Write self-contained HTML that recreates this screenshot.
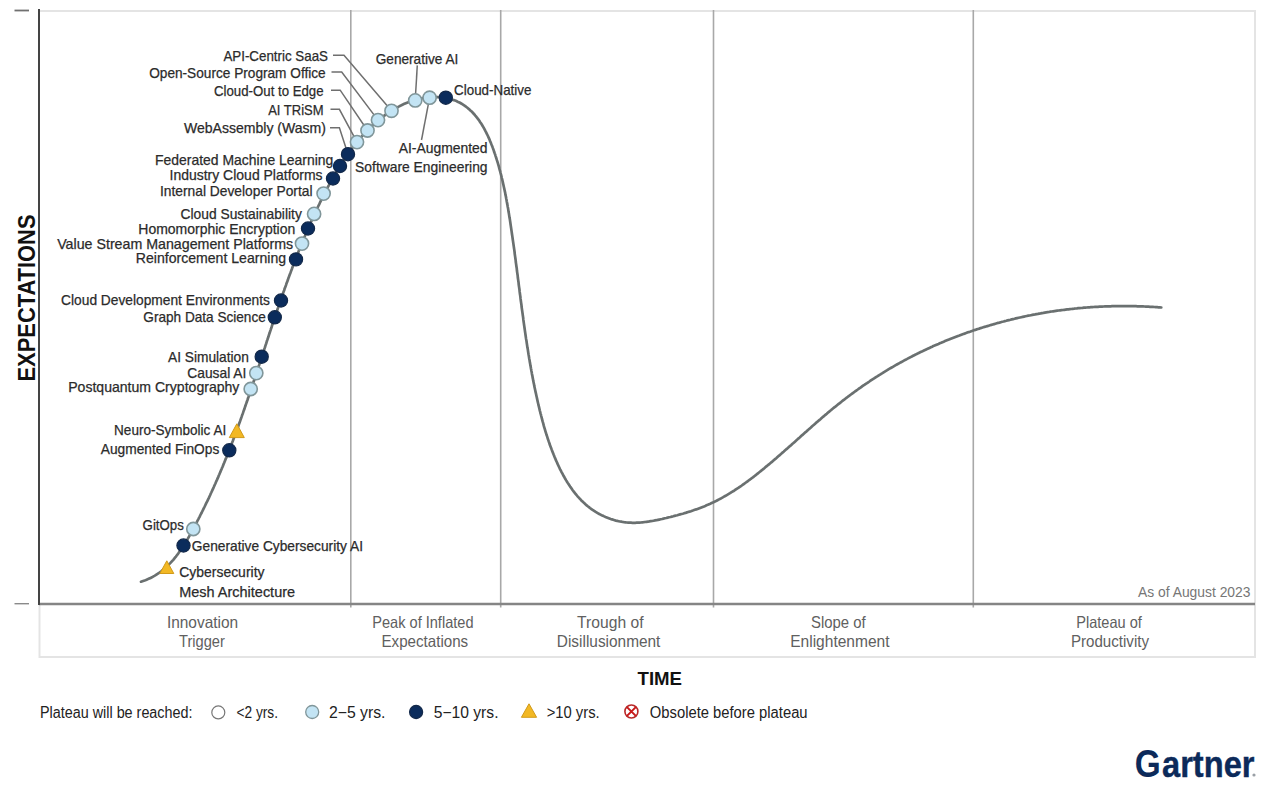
<!DOCTYPE html><html><head><meta charset="utf-8"><style>html,body{margin:0;padding:0;background:#fff;width:1280px;height:790px;overflow:hidden}svg{display:block}</style></head><body><svg width="1280" height="790" viewBox="0 0 1280 790">
<rect width="1280" height="790" fill="#fff"/>
<line x1="39" y1="11" x2="1256" y2="11" stroke="#e4e4e4" stroke-width="2"/>
<line x1="1255" y1="10" x2="1255" y2="658" stroke="#e4e4e4" stroke-width="2"/>
<line x1="39.5" y1="604" x2="39.5" y2="658" stroke="#e4e4e4" stroke-width="2"/>
<line x1="39" y1="657" x2="1256" y2="657" stroke="#e4e4e4" stroke-width="2"/>
<line x1="350.8" y1="10" x2="350.8" y2="607.5" stroke="#a8a8a8" stroke-width="1.6"/>
<line x1="500.7" y1="10" x2="500.7" y2="607.5" stroke="#a8a8a8" stroke-width="1.6"/>
<line x1="713.5" y1="10" x2="713.5" y2="607.5" stroke="#a8a8a8" stroke-width="1.6"/>
<line x1="973.3" y1="10" x2="973.3" y2="607.5" stroke="#a8a8a8" stroke-width="1.6"/>
<line x1="39" y1="604" x2="1255" y2="604" stroke="#858585" stroke-width="2.4"/>
<line x1="39" y1="9" x2="39" y2="605" stroke="#444" stroke-width="2"/>
<line x1="14.5" y1="10.5" x2="29" y2="10.5" stroke="#707070" stroke-width="1.8"/>
<line x1="14.5" y1="603.7" x2="29" y2="603.7" stroke="#8a8a8a" stroke-width="1.4"/>
<path d="M141.0,581.7 L142.4,581.2 L143.9,580.7 L145.3,580.2 L146.6,579.7 L148.0,579.1 L149.3,578.5 L150.6,577.9 L151.9,577.3 L153.1,576.6 L154.4,575.9 L155.6,575.2 L156.8,574.4 L157.9,573.7 L159.1,572.9 L160.2,572.1 L161.3,571.3 L162.4,570.4 L163.5,569.5 L164.5,568.6 L165.6,567.7 L166.6,566.8 L167.6,565.9 L168.6,564.9 L169.5,563.9 L170.5,562.9 L171.4,561.9 L172.3,560.9 L173.3,559.8 L174.1,558.8 L175.0,557.7 L175.9,556.6 L176.7,555.5 L177.6,554.4 L178.4,553.3 L179.2,552.1 L180.0,551.0 L180.8,549.8 L181.6,548.7 L182.4,547.5 L183.2,546.3 L183.9,545.1 L184.7,543.9 L185.4,542.7 L186.1,541.5 L186.9,540.3 L187.6,539.1 L188.3,537.8 L189.0,536.6 L189.7,535.4 L190.4,534.1 L191.1,532.9 L191.7,531.6 L192.4,530.4 L193.1,529.1 L193.8,527.9 L194.4,526.6 L195.1,525.4 L195.8,524.1 L196.4,522.9 L197.1,521.6 L197.7,520.3 L198.4,519.1 L199.0,517.8 L199.7,516.6 L200.3,515.3 L200.9,514.0 L201.6,512.8 L202.2,511.5 L202.8,510.3 L203.5,509.0 L204.1,507.7 L204.7,506.5 L205.3,505.2 L205.9,503.9 L206.5,502.6 L207.2,501.4 L207.8,500.1 L208.4,498.8 L209.0,497.6 L209.6,496.3 L210.2,495.0 L210.7,493.7 L211.3,492.5 L211.9,491.2 L212.5,489.9 L213.1,488.6 L213.7,487.3 L214.2,486.1 L214.8,484.8 L215.4,483.5 L215.9,482.2 L216.5,480.9 L217.1,479.6 L217.6,478.4 L218.2,477.1 L218.7,475.8 L219.3,474.5 L219.8,473.2 L220.4,471.9 L220.9,470.6 L221.5,469.3 L222.0,468.0 L222.6,466.7 L223.1,465.4 L223.6,464.1 L224.2,462.8 L224.7,461.5 L225.2,460.2 L225.7,458.9 L226.3,457.6 L226.8,456.3 L227.3,455.0 L227.8,453.7 L228.3,452.4 L228.9,451.1 L229.4,449.8 L229.9,448.5 L230.4,447.2 L230.9,445.9 L231.4,444.6 L231.9,443.3 L232.4,442.0 L232.9,440.7 L233.4,439.3 L233.9,438.0 L234.4,436.7 L234.9,435.4 L235.4,434.1 L235.8,432.8 L236.3,431.4 L236.8,430.1 L237.3,428.8 L237.8,427.5 L238.3,426.2 L238.7,424.9 L239.2,423.5 L239.7,422.2 L240.2,420.9 L240.6,419.6 L241.1,418.2 L241.6,416.9 L242.0,415.6 L242.5,414.3 L243.0,412.9 L243.4,411.6 L243.9,410.3 L244.4,409.0 L244.8,407.6 L245.3,406.3 L245.7,405.0 L246.2,403.6 L246.7,402.3 L247.1,401.0 L247.6,399.7 L248.0,398.3 L248.5,397.0 L248.9,395.7 L249.4,394.3 L249.8,393.0 L250.3,391.7 L250.7,390.3 L251.2,389.0 L251.6,387.7 L252.1,386.3 L252.5,385.0 L253.0,383.7 L253.4,382.3 L253.9,381.0 L254.3,379.6 L254.7,378.3 L255.2,377.0 L255.6,375.6 L256.1,374.3 L256.5,373.0 L257.0,371.6 L257.4,370.3 L257.8,369.0 L258.3,367.6 L258.7,366.3 L259.2,364.9 L259.6,363.6 L260.0,362.3 L260.5,360.9 L260.9,359.6 L261.3,358.2 L261.8,356.9 L262.2,355.6 L262.7,354.2 L263.1,352.9 L263.5,351.6 L264.0,350.2 L264.4,348.9 L264.9,347.5 L265.3,346.2 L265.7,344.9 L266.2,343.5 L266.6,342.2 L267.0,340.8 L267.5,339.5 L267.9,338.2 L268.4,336.8 L268.8,335.5 L269.2,334.2 L269.7,332.8 L270.1,331.5 L270.6,330.1 L271.0,328.8 L271.5,327.5 L271.9,326.1 L272.3,324.8 L272.8,323.5 L273.2,322.1 L273.7,320.8 L274.1,319.5 L274.6,318.1 L275.0,316.8 L275.5,315.4 L275.9,314.1 L276.4,312.8 L276.8,311.4 L277.3,310.1 L277.7,308.8 L278.2,307.4 L278.6,306.1 L279.1,304.8 L279.5,303.4 L280.0,302.1 L280.5,300.8 L280.9,299.5 L281.4,298.1 L281.8,296.8 L282.3,295.5 L282.8,294.1 L283.2,292.8 L283.7,291.5 L284.2,290.2 L284.6,288.8 L285.1,287.5 L285.6,286.2 L286.1,284.9 L286.5,283.5 L287.0,282.2 L287.5,280.9 L288.0,279.6 L288.4,278.2 L288.9,276.9 L289.4,275.6 L289.9,274.3 L290.4,273.0 L290.9,271.6 L291.4,270.3 L291.9,269.0 L292.3,267.7 L292.8,266.4 L293.3,265.1 L293.8,263.7 L294.3,262.4 L294.8,261.1 L295.3,259.8 L295.9,258.5 L296.4,257.2 L296.9,255.9 L297.4,254.6 L297.9,253.2 L298.4,251.9 L298.9,250.6 L299.5,249.3 L300.0,248.0 L300.5,246.7 L301.0,245.4 L301.6,244.1 L302.1,242.8 L302.6,241.5 L303.2,240.2 L303.7,238.9 L304.2,237.6 L304.8,236.3 L305.3,235.0 L305.9,233.7 L306.4,232.4 L307.0,231.1 L307.5,229.9 L308.1,228.6 L308.7,227.3 L309.2,226.0 L309.8,224.7 L310.3,223.4 L310.9,222.1 L311.5,220.8 L312.1,219.6 L312.6,218.3 L313.2,217.0 L313.8,215.7 L314.4,214.4 L315.0,213.2 L315.6,211.9 L316.2,210.6 L316.8,209.3 L317.4,208.1 L318.0,206.8 L318.6,205.5 L319.2,204.3 L319.8,203.0 L320.4,201.7 L321.1,200.5 L321.7,199.2 L322.3,197.9 L322.9,196.7 L323.6,195.4 L324.2,194.2 L324.8,192.9 L325.5,191.7 L326.1,190.4 L326.8,189.2 L327.4,187.9 L328.1,186.7 L328.8,185.4 L329.4,184.2 L330.1,182.9 L330.8,181.7 L331.5,180.5 L332.1,179.2 L332.8,178.0 L333.5,176.8 L334.2,175.5 L334.9,174.3 L335.6,173.1 L336.3,171.9 L337.1,170.7 L337.8,169.5 L338.5,168.3 L339.2,167.1 L340.0,165.9 L340.7,164.7 L341.5,163.5 L342.2,162.3 L343.0,161.1 L343.8,160.0 L344.5,158.8 L345.3,157.6 L346.1,156.5 L346.9,155.3 L347.7,154.2 L348.5,153.0 L349.3,151.9 L350.2,150.8 L351.0,149.6 L351.8,148.5 L352.7,147.4 L353.5,146.3 L354.4,145.2 L355.3,144.1 L356.1,143.0 L357.0,141.9 L357.9,140.8 L358.8,139.8 L359.7,138.7 L360.6,137.7 L361.6,136.6 L362.5,135.6 L363.4,134.5 L364.4,133.5 L365.4,132.5 L366.3,131.5 L367.3,130.5 L368.3,129.5 L369.3,128.5 L370.3,127.5 L371.3,126.6 L372.3,125.6 L373.4,124.7 L374.4,123.7 L375.5,122.8 L376.6,121.9 L377.6,121.0 L378.7,120.0 L379.8,119.1 L380.9,118.3 L382.0,117.4 L383.2,116.5 L384.3,115.7 L385.5,114.8 L386.6,114.0 L387.8,113.2 L389.0,112.4 L390.2,111.6 L391.4,110.8 L392.6,110.1 L393.8,109.3 L395.0,108.6 L396.2,107.9 L397.5,107.2 L398.7,106.6 L400.0,105.9 L401.3,105.3 L402.5,104.7 L403.8,104.1 L405.1,103.5 L406.4,102.9 L407.7,102.4 L409.1,101.9 L410.4,101.4 L411.7,100.9 L413.1,100.5 L414.4,100.1 L415.8,99.7 L417.2,99.3 L418.5,99.0 L419.9,98.7 L421.3,98.4 L422.7,98.1 L424.1,97.9 L425.5,97.7 L427.0,97.5 L428.4,97.4 L429.8,97.2 L431.3,97.2 L432.7,97.1 L434.2,97.1 L435.6,97.1 L437.1,97.1 L438.5,97.2 L440.0,97.3 L441.4,97.4 L442.8,97.6 L444.3,97.8 L445.7,98.0 L447.1,98.3 L448.4,98.6 L449.8,98.9 L451.2,99.3 L452.5,99.7 L453.8,100.1 L455.1,100.6 L456.4,101.1 L457.6,101.7 L458.8,102.2 L460.0,102.8 L461.2,103.5 L462.3,104.2 L463.4,104.9 L464.5,105.6 L465.6,106.4 L466.7,107.2 L467.7,108.0 L468.7,108.9 L469.7,109.7 L470.7,110.7 L471.7,111.6 L472.6,112.5 L473.5,113.5 L474.4,114.5 L475.3,115.6 L476.2,116.6 L477.0,117.7 L477.9,118.8 L478.7,119.9 L479.5,121.0 L480.2,122.2 L481.0,123.3 L481.8,124.5 L482.5,125.7 L483.2,126.9 L483.9,128.1 L484.6,129.4 L485.2,130.6 L485.9,131.9 L486.5,133.2 L487.2,134.5 L487.8,135.8 L488.4,137.1 L489.0,138.4 L489.6,139.8 L490.1,141.1 L490.7,142.4 L491.2,143.8 L491.7,145.1 L492.3,146.5 L492.8,147.9 L493.3,149.2 L493.8,150.6 L494.2,152.0 L494.7,153.4 L495.2,154.7 L495.6,156.1 L496.1,157.5 L496.5,158.8 L496.9,160.2 L497.4,161.6 L497.8,163.0 L498.2,164.3 L498.6,165.7 L499.0,167.1 L499.3,168.4 L499.7,169.8 L500.1,171.2 L500.4,172.5 L500.8,173.9 L501.2,175.3 L501.5,176.6 L501.8,178.0 L502.2,179.4 L502.5,180.7 L502.8,182.1 L503.1,183.5 L503.4,184.8 L503.7,186.2 L504.0,187.5 L504.3,188.9 L504.6,190.3 L504.9,191.6 L505.2,193.0 L505.4,194.4 L505.7,195.7 L506.0,197.1 L506.2,198.5 L506.5,199.8 L506.7,201.2 L507.0,202.6 L507.2,203.9 L507.5,205.3 L507.7,206.7 L508.0,208.0 L508.2,209.4 L508.4,210.8 L508.6,212.1 L508.9,213.5 L509.1,214.9 L509.3,216.2 L509.5,217.6 L509.8,219.0 L510.0,220.4 L510.2,221.7 L510.4,223.1 L510.6,224.5 L510.8,225.9 L511.0,227.2 L511.2,228.6 L511.4,230.0 L511.6,231.4 L511.8,232.8 L512.0,234.2 L512.2,235.5 L512.4,236.9 L512.6,238.3 L512.8,239.7 L513.0,241.1 L513.2,242.5 L513.4,243.9 L513.6,245.2 L513.8,246.6 L514.0,248.0 L514.2,249.4 L514.4,250.8 L514.6,252.2 L514.7,253.6 L514.9,255.0 L515.1,256.4 L515.3,257.8 L515.5,259.2 L515.7,260.6 L515.8,262.0 L516.0,263.4 L516.2,264.8 L516.4,266.2 L516.6,267.5 L516.8,268.9 L516.9,270.3 L517.1,271.7 L517.3,273.1 L517.5,274.5 L517.7,275.9 L517.8,277.3 L518.0,278.7 L518.2,280.1 L518.4,281.5 L518.6,282.9 L518.7,284.3 L518.9,285.7 L519.1,287.1 L519.3,288.5 L519.5,289.9 L519.6,291.4 L519.8,292.8 L520.0,294.2 L520.2,295.6 L520.4,297.0 L520.5,298.4 L520.7,299.8 L520.9,301.2 L521.1,302.6 L521.3,304.0 L521.5,305.4 L521.6,306.8 L521.8,308.2 L522.0,309.6 L522.2,311.0 L522.4,312.4 L522.6,313.8 L522.8,315.2 L523.0,316.6 L523.2,318.0 L523.3,319.4 L523.5,320.8 L523.7,322.2 L523.9,323.6 L524.1,325.0 L524.3,326.4 L524.5,327.8 L524.7,329.2 L524.9,330.6 L525.1,332.0 L525.3,333.4 L525.5,334.8 L525.7,336.2 L525.9,337.6 L526.1,339.0 L526.4,340.4 L526.6,341.8 L526.8,343.2 L527.0,344.6 L527.2,346.0 L527.4,347.4 L527.7,348.7 L527.9,350.1 L528.1,351.5 L528.3,352.9 L528.5,354.3 L528.8,355.7 L529.0,357.1 L529.2,358.5 L529.5,359.9 L529.7,361.3 L529.9,362.6 L530.2,364.0 L530.4,365.4 L530.7,366.8 L530.9,368.2 L531.2,369.6 L531.4,371.0 L531.7,372.3 L531.9,373.7 L532.2,375.1 L532.5,376.5 L532.7,377.9 L533.0,379.2 L533.2,380.6 L533.5,382.0 L533.8,383.4 L534.1,384.7 L534.3,386.1 L534.6,387.5 L534.9,388.8 L535.2,390.2 L535.5,391.6 L535.8,392.9 L536.1,394.3 L536.4,395.7 L536.7,397.0 L537.0,398.4 L537.3,399.8 L537.6,401.1 L537.9,402.5 L538.2,403.8 L538.5,405.2 L538.9,406.6 L539.2,407.9 L539.5,409.3 L539.8,410.6 L540.2,412.0 L540.5,413.3 L540.9,414.7 L541.2,416.0 L541.6,417.4 L541.9,418.7 L542.3,420.1 L542.6,421.4 L543.0,422.7 L543.4,424.1 L543.7,425.4 L544.1,426.8 L544.5,428.1 L544.9,429.4 L545.3,430.8 L545.7,432.1 L546.1,433.4 L546.5,434.8 L547.0,436.1 L547.4,437.4 L547.8,438.8 L548.3,440.1 L548.7,441.4 L549.2,442.7 L549.6,444.1 L550.1,445.4 L550.6,446.7 L551.1,448.0 L551.6,449.4 L552.1,450.7 L552.6,452.0 L553.1,453.3 L553.6,454.6 L554.2,456.0 L554.7,457.3 L555.3,458.6 L555.8,459.9 L556.4,461.2 L557.0,462.5 L557.6,463.9 L558.2,465.2 L558.8,466.5 L559.4,467.8 L560.0,469.1 L560.7,470.3 L561.3,471.6 L562.0,472.9 L562.7,474.2 L563.4,475.5 L564.1,476.7 L564.8,478.0 L565.5,479.2 L566.2,480.4 L567.0,481.7 L567.7,482.9 L568.5,484.1 L569.3,485.3 L570.1,486.5 L570.9,487.6 L571.7,488.8 L572.5,490.0 L573.4,491.1 L574.2,492.2 L575.1,493.3 L576.0,494.4 L576.9,495.5 L577.8,496.6 L578.8,497.6 L579.7,498.6 L580.7,499.7 L581.6,500.7 L582.6,501.6 L583.6,502.6 L584.7,503.5 L585.7,504.5 L586.7,505.4 L587.8,506.3 L588.9,507.1 L590.0,508.0 L591.1,508.8 L592.2,509.6 L593.4,510.4 L594.5,511.1 L595.7,511.9 L596.9,512.6 L598.1,513.3 L599.3,514.0 L600.5,514.6 L601.7,515.2 L603.0,515.8 L604.2,516.4 L605.5,517.0 L606.8,517.5 L608.1,518.0 L609.4,518.5 L610.7,519.0 L612.0,519.4 L613.3,519.8 L614.6,520.2 L615.9,520.6 L617.3,520.9 L618.6,521.2 L620.0,521.5 L621.3,521.7 L622.7,522.0 L624.1,522.2 L625.5,522.3 L626.8,522.5 L628.2,522.6 L629.6,522.7 L631.0,522.7 L632.4,522.8 L633.8,522.8 L635.2,522.8 L636.6,522.7 L638.0,522.7 L639.5,522.6 L640.9,522.5 L642.3,522.3 L643.7,522.2 L645.1,522.0 L646.5,521.8 L648.0,521.7 L649.4,521.4 L650.8,521.2 L652.2,521.0 L653.6,520.7 L655.0,520.4 L656.5,520.2 L657.9,519.9 L659.3,519.6 L660.7,519.3 L662.1,519.0 L663.5,518.6 L664.9,518.3 L666.3,518.0 L667.7,517.6 L669.1,517.3 L670.5,517.0 L671.9,516.6 L673.3,516.3 L674.6,515.9 L676.0,515.5 L677.4,515.2 L678.7,514.8 L680.1,514.4 L681.5,514.0 L682.8,513.7 L684.2,513.3 L685.5,512.9 L686.9,512.4 L688.2,512.0 L689.5,511.6 L690.9,511.2 L692.2,510.7 L693.5,510.3 L694.8,509.8 L696.2,509.4 L697.5,508.9 L698.8,508.4 L700.1,507.9 L701.4,507.4 L702.7,506.9 L704.0,506.4 L705.2,505.9 L706.5,505.3 L707.8,504.8 L709.1,504.2 L710.3,503.7 L711.6,503.1 L712.9,502.5 L714.1,501.9 L715.4,501.3 L716.6,500.7 L717.9,500.0 L719.1,499.4 L720.3,498.8 L721.5,498.1 L722.8,497.4 L724.0,496.7 L725.2,496.0 L726.4,495.3 L727.6,494.6 L728.8,493.9 L730.0,493.2 L731.2,492.4 L732.4,491.7 L733.6,491.0 L734.8,490.2 L735.9,489.4 L737.1,488.6 L738.3,487.9 L739.4,487.1 L740.6,486.3 L741.8,485.5 L742.9,484.7 L744.1,483.8 L745.2,483.0 L746.4,482.2 L747.5,481.4 L748.6,480.5 L749.8,479.7 L750.9,478.8 L752.0,478.0 L753.2,477.1 L754.3,476.2 L755.4,475.4 L756.5,474.5 L757.6,473.6 L758.7,472.7 L759.9,471.8 L761.0,470.9 L762.1,470.0 L763.2,469.1 L764.3,468.2 L765.3,467.3 L766.4,466.4 L767.5,465.5 L768.6,464.6 L769.7,463.7 L770.8,462.8 L771.9,461.9 L772.9,461.0 L774.0,460.0 L775.1,459.1 L776.2,458.2 L777.2,457.3 L778.3,456.3 L779.4,455.4 L780.4,454.5 L781.5,453.6 L782.5,452.6 L783.6,451.7 L784.6,450.8 L785.7,449.8 L786.8,448.9 L787.8,448.0 L788.9,447.0 L789.9,446.1 L791.0,445.2 L792.0,444.2 L793.1,443.3 L794.1,442.4 L795.2,441.4 L796.2,440.5 L797.3,439.6 L798.3,438.6 L799.4,437.7 L800.4,436.8 L801.4,435.8 L802.5,434.9 L803.5,434.0 L804.6,433.0 L805.6,432.1 L806.7,431.2 L807.7,430.2 L808.8,429.3 L809.8,428.4 L810.9,427.5 L811.9,426.5 L813.0,425.6 L814.0,424.7 L815.1,423.8 L816.1,422.8 L817.2,421.9 L818.2,421.0 L819.3,420.1 L820.4,419.2 L821.4,418.3 L822.5,417.3 L823.6,416.4 L824.6,415.5 L825.7,414.6 L826.8,413.7 L827.8,412.8 L828.9,411.9 L830.0,411.0 L831.1,410.1 L832.1,409.2 L833.2,408.3 L834.3,407.4 L835.4,406.6 L836.5,405.7 L837.6,404.8 L838.7,403.9 L839.8,403.1 L840.9,402.2 L842.0,401.3 L843.1,400.4 L844.2,399.6 L845.3,398.7 L846.4,397.9 L847.6,397.0 L848.7,396.2 L849.8,395.3 L850.9,394.5 L852.1,393.6 L853.2,392.8 L854.3,392.0 L855.5,391.1 L856.6,390.3 L857.8,389.5 L858.9,388.7 L860.1,387.9 L861.2,387.1 L862.4,386.2 L863.5,385.4 L864.7,384.6 L865.8,383.8 L867.0,383.1 L868.2,382.3 L869.4,381.5 L870.5,380.7 L871.7,379.9 L872.9,379.1 L874.1,378.4 L875.2,377.6 L876.4,376.8 L877.6,376.1 L878.8,375.3 L880.0,374.6 L881.2,373.8 L882.4,373.1 L883.6,372.3 L884.8,371.6 L886.0,370.9 L887.2,370.2 L888.4,369.4 L889.6,368.7 L890.8,368.0 L892.1,367.3 L893.3,366.6 L894.5,365.9 L895.7,365.2 L896.9,364.5 L898.2,363.8 L899.4,363.1 L900.6,362.4 L901.9,361.8 L903.1,361.1 L904.3,360.4 L905.6,359.7 L906.8,359.1 L908.1,358.4 L909.3,357.8 L910.6,357.1 L911.8,356.5 L913.1,355.8 L914.3,355.2 L915.6,354.6 L916.8,353.9 L918.1,353.3 L919.3,352.7 L920.6,352.1 L921.9,351.5 L923.1,350.9 L924.4,350.3 L925.7,349.7 L927.0,349.1 L928.2,348.5 L929.5,347.9 L930.8,347.3 L932.1,346.7 L933.3,346.1 L934.6,345.6 L935.9,345.0 L937.2,344.4 L938.5,343.9 L939.8,343.3 L941.1,342.8 L942.4,342.2 L943.7,341.7 L945.0,341.1 L946.3,340.6 L947.6,340.1 L948.9,339.6 L950.2,339.0 L951.5,338.5 L952.8,338.0 L954.1,337.5 L955.4,337.0 L956.7,336.5 L958.0,336.0 L959.4,335.5 L960.7,335.0 L962.0,334.5 L963.3,334.0 L964.6,333.6 L966.0,333.1 L967.3,332.6 L968.6,332.1 L969.9,331.7 L971.3,331.2 L972.6,330.8 L973.9,330.3 L975.3,329.9 L976.6,329.4 L977.9,329.0 L979.3,328.6 L980.6,328.1 L981.9,327.7 L983.3,327.3 L984.6,326.9 L986.0,326.5 L987.3,326.1 L988.7,325.7 L990.0,325.3 L991.4,324.9 L992.7,324.5 L994.1,324.1 L995.4,323.7 L996.8,323.3 L998.1,322.9 L999.5,322.6 L1000.8,322.2 L1002.2,321.8 L1003.6,321.5 L1004.9,321.1 L1006.3,320.8 L1007.6,320.4 L1009.0,320.1 L1010.4,319.8 L1011.7,319.4 L1013.1,319.1 L1014.5,318.8 L1015.8,318.4 L1017.2,318.1 L1018.6,317.8 L1020.0,317.5 L1021.3,317.2 L1022.7,316.9 L1024.1,316.6 L1025.5,316.3 L1026.8,316.0 L1028.2,315.7 L1029.6,315.5 L1031.0,315.2 L1032.3,314.9 L1033.7,314.6 L1035.1,314.4 L1036.5,314.1 L1037.9,313.9 L1039.3,313.6 L1040.6,313.4 L1042.0,313.1 L1043.4,312.9 L1044.8,312.6 L1046.2,312.4 L1047.6,312.2 L1049.0,312.0 L1050.4,311.7 L1051.8,311.5 L1053.1,311.3 L1054.5,311.1 L1055.9,310.9 L1057.3,310.7 L1058.7,310.5 L1060.1,310.3 L1061.5,310.1 L1062.9,310.0 L1064.3,309.8 L1065.7,309.6 L1067.1,309.4 L1068.5,309.3 L1069.9,309.1 L1071.3,309.0 L1072.7,308.8 L1074.1,308.7 L1075.5,308.5 L1076.9,308.4 L1078.3,308.2 L1079.7,308.1 L1081.1,308.0 L1082.5,307.9 L1083.9,307.7 L1085.3,307.6 L1086.7,307.5 L1088.1,307.4 L1089.5,307.3 L1090.9,307.2 L1092.3,307.1 L1093.7,307.0 L1095.1,306.9 L1096.5,306.8 L1098.0,306.8 L1099.4,306.7 L1100.8,306.6 L1102.2,306.6 L1103.6,306.5 L1105.0,306.4 L1106.4,306.4 L1107.8,306.3 L1109.2,306.3 L1110.6,306.3 L1112.0,306.2 L1113.4,306.2 L1114.8,306.2 L1116.2,306.1 L1117.7,306.1 L1119.1,306.1 L1120.5,306.1 L1121.9,306.1 L1123.3,306.1 L1124.7,306.1 L1126.1,306.1 L1127.5,306.1 L1128.9,306.1 L1130.3,306.1 L1131.7,306.1 L1133.2,306.2 L1134.6,306.2 L1136.0,306.2 L1137.4,306.3 L1138.8,306.3 L1140.2,306.3 L1141.6,306.4 L1143.0,306.4 L1144.4,306.5 L1145.8,306.6 L1147.2,306.6 L1148.6,306.7 L1150.0,306.8 L1151.4,306.9 L1152.9,306.9 L1154.3,307.0 L1155.7,307.1 L1157.1,307.2 L1158.5,307.3 L1159.9,307.4 L1161.3,307.5" fill="none" stroke="#6a7070" stroke-width="2.7" stroke-linecap="round"/>
<polyline points="333,55.3 344,55.3 391.5,110.8" fill="none" stroke="#6f6f6f" stroke-width="1.5"/>
<polyline points="331.5,72 341.7,72 378,120.1" fill="none" stroke="#6f6f6f" stroke-width="1.5"/>
<polyline points="331,90.2 340.2,90.2 367.5,130.5" fill="none" stroke="#6f6f6f" stroke-width="1.5"/>
<polyline points="330.5,109.3 339.4,109.3 357,142.1" fill="none" stroke="#6f6f6f" stroke-width="1.5"/>
<polyline points="330,127.7 339.4,127.7 348,154.2" fill="none" stroke="#6f6f6f" stroke-width="1.5"/>
<polyline points="417.3,65.4 415.2,100.4" fill="none" stroke="#6f6f6f" stroke-width="1.5"/>
<polyline points="421.5,140 429.6,97.7" fill="none" stroke="#6f6f6f" stroke-width="1.5"/>
<polygon points="166.8,560.8 173.8,573.5 159.8,573.5" fill="#f2b824" stroke="#d19a1a" stroke-width="1" stroke-linejoin="round"/>
<circle cx="183.5" cy="545.5" r="6.6" fill="#0b2c5c" stroke="#13294a" stroke-width="1.2"/>
<circle cx="193.3" cy="529" r="6.6" fill="#c3e4f4" stroke="#80969a" stroke-width="1.6"/>
<circle cx="229.3" cy="450.3" r="6.6" fill="#0b2c5c" stroke="#13294a" stroke-width="1.2"/>
<polygon points="236.8,423.8 244.3,437.6 229.3,437.6" fill="#f2b824" stroke="#d19a1a" stroke-width="1" stroke-linejoin="round"/>
<circle cx="250.7" cy="389" r="6.6" fill="#c3e4f4" stroke="#80969a" stroke-width="1.6"/>
<circle cx="256.3" cy="373.1" r="6.6" fill="#c3e4f4" stroke="#80969a" stroke-width="1.6"/>
<circle cx="261.7" cy="356.7" r="6.6" fill="#0b2c5c" stroke="#13294a" stroke-width="1.2"/>
<circle cx="274.8" cy="317.3" r="6.6" fill="#0b2c5c" stroke="#13294a" stroke-width="1.2"/>
<circle cx="281" cy="300.5" r="6.6" fill="#0b2c5c" stroke="#13294a" stroke-width="1.2"/>
<circle cx="296" cy="259.4" r="6.6" fill="#0b2c5c" stroke="#13294a" stroke-width="1.2"/>
<circle cx="302" cy="243.6" r="6.6" fill="#c3e4f4" stroke="#80969a" stroke-width="1.6"/>
<circle cx="308" cy="228.5" r="6.6" fill="#0b2c5c" stroke="#13294a" stroke-width="1.2"/>
<circle cx="314.1" cy="213.9" r="6.6" fill="#c3e4f4" stroke="#80969a" stroke-width="1.6"/>
<circle cx="323.6" cy="193.6" r="6.6" fill="#c3e4f4" stroke="#80969a" stroke-width="1.6"/>
<circle cx="333" cy="178.5" r="6.6" fill="#0b2c5c" stroke="#13294a" stroke-width="1.2"/>
<circle cx="340" cy="166" r="6.6" fill="#0b2c5c" stroke="#13294a" stroke-width="1.2"/>
<circle cx="348" cy="154.2" r="6.6" fill="#0b2c5c" stroke="#13294a" stroke-width="1.2"/>
<circle cx="357" cy="142.1" r="6.6" fill="#c3e4f4" stroke="#80969a" stroke-width="1.6"/>
<circle cx="367.5" cy="130.5" r="6.6" fill="#c3e4f4" stroke="#80969a" stroke-width="1.6"/>
<circle cx="378" cy="120.1" r="6.6" fill="#c3e4f4" stroke="#80969a" stroke-width="1.6"/>
<circle cx="391.5" cy="110.8" r="6.6" fill="#c3e4f4" stroke="#80969a" stroke-width="1.6"/>
<circle cx="415.2" cy="100.4" r="6.6" fill="#c3e4f4" stroke="#80969a" stroke-width="1.6"/>
<circle cx="429.6" cy="97.7" r="6.6" fill="#c3e4f4" stroke="#80969a" stroke-width="1.6"/>
<circle cx="445.8" cy="97.7" r="6.6" fill="#0b2c5c" stroke="#13294a" stroke-width="1.2"/>
<text x="223.4" y="61.0" font-family="Liberation Sans, sans-serif" font-size="14.5" fill="#2b2b2b" stroke="#2b2b2b" stroke-width="0.25" textLength="104.6" lengthAdjust="spacingAndGlyphs">API-Centric SaaS</text>
<text x="149.2" y="77.5" font-family="Liberation Sans, sans-serif" font-size="14.5" fill="#2b2b2b" stroke="#2b2b2b" stroke-width="0.25" textLength="176.5" lengthAdjust="spacingAndGlyphs">Open-Source Program Office</text>
<text x="214.0" y="96.3" font-family="Liberation Sans, sans-serif" font-size="14.5" fill="#2b2b2b" stroke="#2b2b2b" stroke-width="0.25" textLength="109.6" lengthAdjust="spacingAndGlyphs">Cloud-Out to Edge</text>
<text x="268.2" y="114.9" font-family="Liberation Sans, sans-serif" font-size="14.5" fill="#2b2b2b" stroke="#2b2b2b" stroke-width="0.25" textLength="55.4" lengthAdjust="spacingAndGlyphs">AI TRiSM</text>
<text x="183.9" y="132.5" font-family="Liberation Sans, sans-serif" font-size="14.5" fill="#2b2b2b" stroke="#2b2b2b" stroke-width="0.25" textLength="142.1" lengthAdjust="spacingAndGlyphs">WebAssembly (Wasm)</text>
<text x="375.7" y="63.5" font-family="Liberation Sans, sans-serif" font-size="14.5" fill="#2b2b2b" stroke="#2b2b2b" stroke-width="0.25" textLength="82.7" lengthAdjust="spacingAndGlyphs">Generative AI</text>
<text x="454.1" y="94.7" font-family="Liberation Sans, sans-serif" font-size="14.5" fill="#2b2b2b" stroke="#2b2b2b" stroke-width="0.25" textLength="77.3" lengthAdjust="spacingAndGlyphs">Cloud-Native</text>
<text x="398.7" y="153.1" font-family="Liberation Sans, sans-serif" font-size="14.5" fill="#2b2b2b" stroke="#2b2b2b" stroke-width="0.25" textLength="88.9" lengthAdjust="spacingAndGlyphs">AI-Augmented</text>
<text x="355.1" y="171.8" font-family="Liberation Sans, sans-serif" font-size="14.5" fill="#2b2b2b" stroke="#2b2b2b" stroke-width="0.25" textLength="132.5" lengthAdjust="spacingAndGlyphs">Software Engineering</text>
<text x="155.1" y="165.4" font-family="Liberation Sans, sans-serif" font-size="14.5" fill="#2b2b2b" stroke="#2b2b2b" stroke-width="0.25" textLength="178.2" lengthAdjust="spacingAndGlyphs">Federated Machine Learning</text>
<text x="169.5" y="180.2" font-family="Liberation Sans, sans-serif" font-size="14.5" fill="#2b2b2b" stroke="#2b2b2b" stroke-width="0.25" textLength="153.1" lengthAdjust="spacingAndGlyphs">Industry Cloud Platforms</text>
<text x="160.0" y="195.8" font-family="Liberation Sans, sans-serif" font-size="14.5" fill="#2b2b2b" stroke="#2b2b2b" stroke-width="0.25" textLength="152.5" lengthAdjust="spacingAndGlyphs">Internal Developer Portal</text>
<text x="180.5" y="218.9" font-family="Liberation Sans, sans-serif" font-size="14.5" fill="#2b2b2b" stroke="#2b2b2b" stroke-width="0.25" textLength="121.3" lengthAdjust="spacingAndGlyphs">Cloud Sustainability</text>
<text x="138.3" y="233.7" font-family="Liberation Sans, sans-serif" font-size="14.5" fill="#2b2b2b" stroke="#2b2b2b" stroke-width="0.25" textLength="157.0" lengthAdjust="spacingAndGlyphs">Homomorphic Encryption</text>
<text x="57.2" y="249.0" font-family="Liberation Sans, sans-serif" font-size="14.5" fill="#2b2b2b" stroke="#2b2b2b" stroke-width="0.25" textLength="236.0" lengthAdjust="spacingAndGlyphs">Value Stream Management Platforms</text>
<text x="135.8" y="263.2" font-family="Liberation Sans, sans-serif" font-size="14.5" fill="#2b2b2b" stroke="#2b2b2b" stroke-width="0.25" textLength="150.3" lengthAdjust="spacingAndGlyphs">Reinforcement Learning</text>
<text x="61.1" y="304.9" font-family="Liberation Sans, sans-serif" font-size="14.5" fill="#2b2b2b" stroke="#2b2b2b" stroke-width="0.25" textLength="208.8" lengthAdjust="spacingAndGlyphs">Cloud Development Environments</text>
<text x="143.3" y="321.8" font-family="Liberation Sans, sans-serif" font-size="14.5" fill="#2b2b2b" stroke="#2b2b2b" stroke-width="0.25" textLength="122.5" lengthAdjust="spacingAndGlyphs">Graph Data Science</text>
<text x="168.0" y="361.7" font-family="Liberation Sans, sans-serif" font-size="14.5" fill="#2b2b2b" stroke="#2b2b2b" stroke-width="0.25" textLength="80.9" lengthAdjust="spacingAndGlyphs">AI Simulation</text>
<text x="187.3" y="377.6" font-family="Liberation Sans, sans-serif" font-size="14.5" fill="#2b2b2b" stroke="#2b2b2b" stroke-width="0.25" textLength="59.1" lengthAdjust="spacingAndGlyphs">Causal AI</text>
<text x="68.2" y="392.1" font-family="Liberation Sans, sans-serif" font-size="14.5" fill="#2b2b2b" stroke="#2b2b2b" stroke-width="0.25" textLength="171.2" lengthAdjust="spacingAndGlyphs">Postquantum Cryptography</text>
<text x="114.1" y="434.9" font-family="Liberation Sans, sans-serif" font-size="14.5" fill="#2b2b2b" stroke="#2b2b2b" stroke-width="0.25" textLength="112.1" lengthAdjust="spacingAndGlyphs">Neuro-Symbolic AI</text>
<text x="100.8" y="454.4" font-family="Liberation Sans, sans-serif" font-size="14.5" fill="#2b2b2b" stroke="#2b2b2b" stroke-width="0.25" textLength="118.5" lengthAdjust="spacingAndGlyphs">Augmented FinOps</text>
<text x="142.6" y="529.9" font-family="Liberation Sans, sans-serif" font-size="14.5" fill="#2b2b2b" stroke="#2b2b2b" stroke-width="0.25" textLength="41.3" lengthAdjust="spacingAndGlyphs">GitOps</text>
<text x="191.8" y="551.1" font-family="Liberation Sans, sans-serif" font-size="14.5" fill="#2b2b2b" stroke="#2b2b2b" stroke-width="0.25" textLength="171.2" lengthAdjust="spacingAndGlyphs">Generative Cybersecurity AI</text>
<text x="179.2" y="577.3" font-family="Liberation Sans, sans-serif" font-size="14.5" fill="#2b2b2b" stroke="#2b2b2b" stroke-width="0.25" textLength="85.3" lengthAdjust="spacingAndGlyphs">Cybersecurity</text>
<text x="179.2" y="596.8" font-family="Liberation Sans, sans-serif" font-size="14.5" fill="#2b2b2b" stroke="#2b2b2b" stroke-width="0.25" textLength="115.9" lengthAdjust="spacingAndGlyphs">Mesh Architecture</text>
<text x="1138" y="596.5" font-family="Liberation Sans, sans-serif" font-size="15" fill="#767676" textLength="112.5" lengthAdjust="spacingAndGlyphs">As of August 2023</text>
<text x="166.9" y="628.4" font-family="Liberation Sans, sans-serif" font-size="16.5" fill="#606060" textLength="71.3" lengthAdjust="spacingAndGlyphs">Innovation</text>
<text x="179.0" y="647.2" font-family="Liberation Sans, sans-serif" font-size="16.5" fill="#606060" textLength="45.9" lengthAdjust="spacingAndGlyphs">Trigger</text>
<text x="372.3" y="628.2" font-family="Liberation Sans, sans-serif" font-size="16.5" fill="#606060" textLength="101.2" lengthAdjust="spacingAndGlyphs">Peak of Inflated</text>
<text x="381.5" y="647.2" font-family="Liberation Sans, sans-serif" font-size="16.5" fill="#606060" textLength="86.7" lengthAdjust="spacingAndGlyphs">Expectations</text>
<text x="577.1" y="628.2" font-family="Liberation Sans, sans-serif" font-size="16.5" fill="#606060" textLength="66.4" lengthAdjust="spacingAndGlyphs">Trough of</text>
<text x="556.8" y="647.2" font-family="Liberation Sans, sans-serif" font-size="16.5" fill="#606060" textLength="103.6" lengthAdjust="spacingAndGlyphs">Disillusionment</text>
<text x="811.0" y="628.2" font-family="Liberation Sans, sans-serif" font-size="16.5" fill="#606060" textLength="54.7" lengthAdjust="spacingAndGlyphs">Slope of</text>
<text x="790.2" y="647.2" font-family="Liberation Sans, sans-serif" font-size="16.5" fill="#606060" textLength="99.4" lengthAdjust="spacingAndGlyphs">Enlightenment</text>
<text x="1076.3" y="628" font-family="Liberation Sans, sans-serif" font-size="16.5" fill="#606060" textLength="65.5" lengthAdjust="spacingAndGlyphs">Plateau of</text>
<text x="1070.9" y="647" font-family="Liberation Sans, sans-serif" font-size="16.5" fill="#606060" textLength="78.1" lengthAdjust="spacingAndGlyphs">Productivity</text>
<text x="637.5" y="684.8" font-family="Liberation Sans, sans-serif" font-size="18.5" font-weight="bold" fill="#111" textLength="44.5" lengthAdjust="spacingAndGlyphs">TIME</text>
<text transform="translate(34.6,381.5) rotate(-90)" x="0" y="0" font-family="Liberation Sans, sans-serif" font-size="24" font-weight="bold" fill="#111" textLength="167" lengthAdjust="spacingAndGlyphs">EXPECTATIONS</text>
<text x="40" y="718.3" font-family="Liberation Sans, sans-serif" font-size="16" fill="#222" textLength="152.5" lengthAdjust="spacingAndGlyphs">Plateau will be reached:</text>
<circle cx="218.3" cy="712.4" r="6.5" fill="#fff" stroke="#777" stroke-width="1.2"/>
<text x="236.5" y="718.3" font-family="Liberation Sans, sans-serif" font-size="16" fill="#222" textLength="41.5" lengthAdjust="spacingAndGlyphs">&lt;2 yrs.</text>
<circle cx="312.2" cy="712" r="6.5" fill="#c3e4f4" stroke="#80969a" stroke-width="1.3"/>
<text x="329" y="718.3" font-family="Liberation Sans, sans-serif" font-size="16" fill="#222" textLength="56.5" lengthAdjust="spacingAndGlyphs">2−5 yrs.</text>
<circle cx="416.1" cy="712" r="6.5" fill="#0b2c5c" stroke="#13294a" stroke-width="1.3"/>
<text x="433.7" y="718.3" font-family="Liberation Sans, sans-serif" font-size="16" fill="#222" textLength="64.8" lengthAdjust="spacingAndGlyphs">5−10 yrs.</text>
<polygon points="529,703.8 536.6,717.3 521.4,717.3" fill="#f2b824" stroke="#d19a1a" stroke-width="1" stroke-linejoin="round"/>
<text x="546.7" y="718.3" font-family="Liberation Sans, sans-serif" font-size="16" fill="#222" textLength="53" lengthAdjust="spacingAndGlyphs">&gt;10 yrs.</text>
<circle cx="631.4" cy="711.5" r="6.5" fill="#fff" stroke="#b82828" stroke-width="1.6"/>
<path d="M627,707.1 L635.8,715.9 M635.8,707.1 L627,715.9" stroke="#c81818" stroke-width="2"/>
<text x="649.8" y="718.3" font-family="Liberation Sans, sans-serif" font-size="16" fill="#222" textLength="157.8" lengthAdjust="spacingAndGlyphs">Obsolete before plateau</text>
<text x="1134.8" y="777.4" font-family="Liberation Sans, sans-serif" font-size="39" font-weight="bold" fill="#0c2a5a" textLength="26" lengthAdjust="spacingAndGlyphs">G</text>
<text x="1162" y="777.3" font-family="Liberation Sans, sans-serif" font-size="36" font-weight="bold" fill="#0c2a5a" stroke="#0c2a5a" stroke-width="0.4" textLength="92.5" lengthAdjust="spacingAndGlyphs">artner</text>
<circle cx="1254" cy="775" r="1.6" fill="#9aa0a6"/>
</svg></body></html>
